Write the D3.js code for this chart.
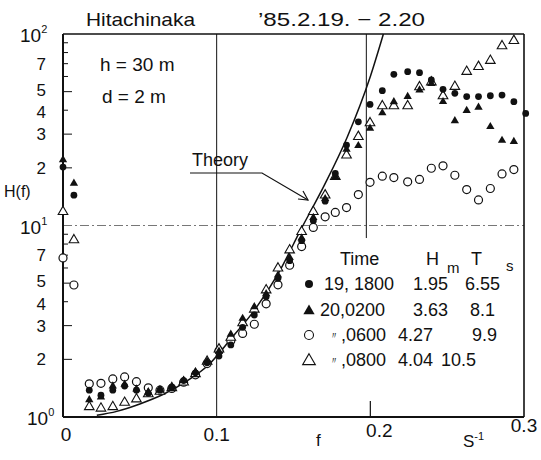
<!DOCTYPE html>
<html><head><meta charset="utf-8">
<script src="https://cdn.jsdelivr.net/npm/d3@7"></script>
<style>
body{margin:0;background:#fff}
svg{display:block}
text{font-family:"Liberation Sans",Arial,sans-serif;fill:#111}
</style>
</head><body>
<svg id="chart" width="541" height="460"></svg>
<script>
// Frequency bins (Hz) shared by the four spectra
const freq = [0, 0.0071, 0.0171, 0.0247, 0.0324, 0.0401, 0.0478, 0.0555, 0.0631, 0.0708,
  0.0785, 0.0862, 0.0938, 0.1015, 0.1092, 0.1169, 0.1245, 0.1322, 0.1399, 0.1475,
  0.1553, 0.1629, 0.1706, 0.1772, 0.1845, 0.1922, 0.1998, 0.2078, 0.2153, 0.2243,
  0.2320, 0.2397, 0.2473, 0.2550, 0.2627, 0.2704, 0.2781, 0.2857, 0.2934, 0.3011];

// H(f) for each record
const h19_1800 = [20.2, 14.4, 1.38, 1.30, 1.38, 1.45, 1.38, 1.33, 1.38, 1.43,
  1.55, 1.70, 1.92, 2.08, 2.38, 2.94, 3.41, 4.25, 5.30, 6.55,
  8.33, 10.6, 13.4, 18.7, 26.3, 34.8, 42.9, 50.6, 61.6, 63.6,
  62.8, 57.5, 51.4, 49.0, 47.1, 47.1, 47.6, 48.0, 44.3, 38.5];
const h20_0200 = [22.0, 16.6, 1.23, 1.27, 1.45, 1.48, 1.40, 1.35, 1.38, 1.43,
  1.55, 1.72, 1.95, 2.20, 2.70, 3.27, 3.76, 4.40, 5.50, 6.80,
  8.60, 11.0, 13.8, 18.0, 25.0, 26.1, 32.2, 38.7, 44.2, 47.1,
  50.9, 55.1, 44.3, 35.2, 39.8, 41.4, 32.8, 27.8, 27.4, null];
const h20_0600 = [6.77, 4.89, 1.49, 1.50, 1.58, 1.62, 1.53, 1.42, 1.38, 1.41,
  1.52, 1.66, 1.90, 2.22, 2.50, 2.73, 3.05, 3.90, 4.90, 6.20,
  7.76, 9.77, 11.1, 11.7, 12.4, 14.5, 16.8, 18.1, 17.8, 16.9,
  17.4, 19.9, 20.5, 18.3, 15.4, 13.6, 15.6, 18.6, 19.6, null];
const h20_0800 = [11.8, 8.4, 1.13, 1.11, 1.13, 1.19, 1.24, 1.32, 1.36, 1.42,
  1.52, 1.68, 1.95, 2.26, 2.60, 3.10, 3.65, 4.60, 5.98, 7.44,
  9.28, 11.8, 14.4, 18.0, 23.3, 29.1, 34.3, 42.1, 42.1, 42.1,
  52.9, 56.1, 47.5, 53.1, 63.6, 67.5, 72.6, 86.6, 92.3, null];

// Theoretical transfer function
const theoryF = [0.022, 0.035, 0.05, 0.065, 0.08, 0.095, 0.11, 0.125, 0.14, 0.155, 0.17, 0.185, 0.2, 0.2085];
const theoryH = [1.02, 1.07, 1.17, 1.31, 1.53, 1.88, 2.6, 3.65, 5.6, 9.6, 16.2, 29, 60, 100];

// Axis labels
const yMinorLabels = [2, 3, 4, 5, 7, 20, 30, 40, 50, 70];
const yDecades = [1, 10, 100];
const xTickLabels = ["0", "0.1", "0.2", "0.3"];
const xTickValues = [0, 0.1, 0.2, 0.3];

// Legend table
const legendTime = ["19, 1800", "20,0200", ",0600", ",0800"];
const legendHm = ["1.95", "3.63", "4.27", "4.04"];
const legendTs = ["6.55", "8.1", "9.9", "10.5"];

const svg = d3.select("#chart");
const x = d3.scaleLinear().domain([0, 0.3]).range([63, 524]);
const y = d3.scaleLog().domain([1, 100]).range([417, 34]);

const ink = "#111";

// grid / reference lines
svg.append("line").attr("x1", x(0)).attr("x2", x(0.3)).attr("y1", y(10)).attr("y2", y(10))
  .attr("stroke", "#777").attr("stroke-width", 1).attr("stroke-dasharray", "9,3,2,3");
svg.append("line").attr("x1", x(0.1)).attr("x2", x(0.1)).attr("y1", y(100)).attr("y2", y(1))
  .attr("stroke", ink).attr("stroke-width", 1);
svg.append("line").attr("x1", x(0.2) - 4).attr("x2", x(0.2) - 4).attr("y1", y(100)).attr("y2", y(8.6))
  .attr("stroke", ink).attr("stroke-width", 1);
svg.append("line").attr("x1", x(0.2)).attr("x2", x(0.2)).attr("y1", y(1)).attr("y2", y(1) - 16)
  .attr("stroke", ink).attr("stroke-width", 1.2);

// frame
svg.append("line").attr("x1", x(0)).attr("x2", x(0.3)).attr("y1", y(100)).attr("y2", y(100))
  .attr("stroke", ink).attr("stroke-width", 1.6);
svg.append("line").attr("x1", x(0.3)).attr("x2", x(0.3)).attr("y1", y(100)).attr("y2", y(1))
  .attr("stroke", ink).attr("stroke-width", 1.6);
svg.append("line").attr("x1", x(0)).attr("x2", x(0.3)).attr("y1", y(1)).attr("y2", y(1))
  .attr("stroke", ink).attr("stroke-width", 2);
svg.append("line").attr("x1", x(0)).attr("x2", x(0)).attr("y1", y(100)).attr("y2", y(1))
  .attr("stroke", ink).attr("stroke-width", 2);

// minor ticks on the H axis, drawn inward
const minorTicks = [];
[1, 10].forEach(dec => { for (let k = 2; k <= 9; k++) minorTicks.push(k * dec); });
svg.selectAll("line.minor").data(minorTicks).join("line").attr("class", "minor")
  .attr("x1", x(0)).attr("x2", d => x(0) + ([2, 3, 5].includes(d % 10 === 0 ? d / 10 : d) ? 9 : 5))
  .attr("y1", d => y(d)).attr("y2", d => y(d))
  .attr("stroke", ink).attr("stroke-width", 1);

// y labels (5 and 4 sit close together, nudged apart)
const labelNudge = v => { const m = v >= 10 ? v / 10 : v; return m === 5 ? -2 : m === 4 ? 2 : 0; };
svg.selectAll("text.ymin").data(yMinorLabels).join("text").attr("class", "ymin")
  .attr("x", 46).attr("y", d => y(d) + 6 + labelNudge(d)).attr("text-anchor", "end")
  .attr("font-size", 17).text(d => d >= 10 ? d / 10 : d);
yDecades.forEach((d, i) => {
  const t = svg.append("text").attr("x", i === 0 ? 27 : 20).attr("y", y(d) + 8).attr("font-size", 19);
  t.append("tspan").text("10");
  t.append("tspan").attr("font-size", 11).attr("dy", -9).text(String(i));
});
svg.append("text").attr("x", 4).attr("y", 197).attr("font-size", 16).text("H(f)");

// x labels
const xLabelShift = [3, 0, 9, 0];
const xLabelDy = [0, 0, -4, -9];
svg.selectAll("text.xl").data(xTickValues).join("text").attr("class", "xl")
  .attr("x", (d, i) => x(d) + xLabelShift[i]).attr("y", (d, i) => 441 + xLabelDy[i])
  .attr("text-anchor", "middle").attr("font-size", 19).text((d, i) => xTickLabels[i]);
svg.append("text").attr("x", 316).attr("y", 446).attr("font-size", 17).text("f");
const su = svg.append("text").attr("x", 463).attr("y", 447).attr("font-size", 17);
su.append("tspan").text("S");
su.append("tspan").attr("font-size", 11).attr("dy", -7).text("-1");

// titles
svg.append("text").attr("x", 86).attr("y", 26).attr("font-size", 19)
  .attr("textLength", 109).attr("lengthAdjust", "spacingAndGlyphs").text("Hitachinaka");
svg.append("text").attr("x", 258).attr("y", 26).attr("font-size", 19)
  .attr("textLength", 167).attr("lengthAdjust", "spacingAndGlyphs").text("\u201985.2.19. \u2212 2.20");
svg.append("text").attr("x", 100).attr("y", 71).attr("font-size", 19).text("h = 30 m");
svg.append("text").attr("x", 102).attr("y", 103).attr("font-size", 19).text("d = 2 m");

// theory curve
const theory = theoryF.map((f, i) => [f, theoryH[i]]);
svg.append("path").datum(theory)
  .attr("d", d3.line().x(d => x(d[0])).y(d => y(d[1])).curve(d3.curveMonotoneX))
  .attr("fill", "none").attr("stroke", ink).attr("stroke-width", 1.5);

// Theory label with leader arrow
svg.append("text").attr("x", 192).attr("y", 166).attr("font-size", 18).text("Theory");
svg.append("path").attr("d", "M190,173 L262,173 L308,200")
  .attr("fill", "none").attr("stroke", ink).attr("stroke-width", 1.2);
svg.append("path").attr("d", "M298,199 L308,200 L303,191")
  .attr("fill", "none").attr("stroke", ink).attr("stroke-width", 1.2);

// markers
const triSmall = d3.symbol(d3.symbolTriangle, 30)();
const triOpen = d3.symbol(d3.symbolTriangle, 40)();
function pts(arr) { return arr.map((v, i) => [freq[i], v]).filter(d => d[1] != null); }

svg.append("g").selectAll("circle").data(pts(h20_0600)).join("circle")
  .attr("cx", d => x(d[0])).attr("cy", d => y(d[1])).attr("r", 4)
  .attr("fill", "#fff").attr("stroke", ink).attr("stroke-width", 1.2);
svg.append("g").selectAll("path").data(pts(h20_0800)).join("path")
  .attr("d", triOpen).attr("transform", d => `translate(${x(d[0])},${y(d[1])})`)
  .attr("fill", "#fff").attr("stroke", ink).attr("stroke-width", 1.1);
svg.append("g").selectAll("path").data(pts(h20_0200)).join("path")
  .attr("d", triSmall).attr("transform", d => `translate(${x(d[0])},${y(d[1])})`)
  .attr("fill", ink);
svg.append("g").selectAll("circle").data(pts(h19_1800)).join("circle")
  .attr("cx", d => x(d[0])).attr("cy", d => y(d[1])).attr("r", 3.4)
  .attr("fill", ink);

// legend
const rowY = [290, 316, 341, 366];
svg.append("text").attr("x", 340).attr("y", 265).attr("font-size", 18).text("Time");
svg.append("text").attr("x", 426).attr("y", 265).attr("font-size", 18).text("H");
svg.append("text").attr("x", 447).attr("y", 273).attr("font-size", 15).text("m");
svg.append("text").attr("x", 471).attr("y", 265).attr("font-size", 18).text("T");
svg.append("text").attr("x", 506).attr("y", 271).attr("font-size", 15).text("s");

const lg = svg.append("g");
lg.append("circle").attr("cx", 309).attr("cy", rowY[0] - 6).attr("r", 4).attr("fill", ink);
lg.append("path").attr("d", d3.symbol(d3.symbolTriangle, 55)()).attr("transform", `translate(309,${rowY[1] - 5})`).attr("fill", ink);
lg.append("circle").attr("cx", 309).attr("cy", rowY[2] - 6).attr("r", 4.5).attr("fill", "#fff").attr("stroke", ink).attr("stroke-width", 1.1);
lg.append("path").attr("d", d3.symbol(d3.symbolTriangle, 70)()).attr("transform", `translate(309,${rowY[3] - 5})`).attr("fill", "#fff").attr("stroke", ink).attr("stroke-width", 1.1);

const timeX = [324, 320, 341, 341];
legendTime.forEach((t, i) => {
  lg.append("text").attr("x", timeX[i]).attr("y", rowY[i]).attr("font-size", 18).text(t);
  if (i >= 2) lg.append("text").attr("x", 329).attr("y", rowY[i] - 2).attr("font-size", 10).text("\u3003");
});
const hmX = [413, 413, 398, 398];
legendHm.forEach((t, i) => lg.append("text").attr("x", hmX[i]).attr("y", rowY[i]).attr("font-size", 18).text(t));
const tsX = [465, 470, 472, 441];
legendTs.forEach((t, i) => lg.append("text").attr("x", tsX[i]).attr("y", rowY[i]).attr("font-size", 18).text(t));
</script>
</body></html>
